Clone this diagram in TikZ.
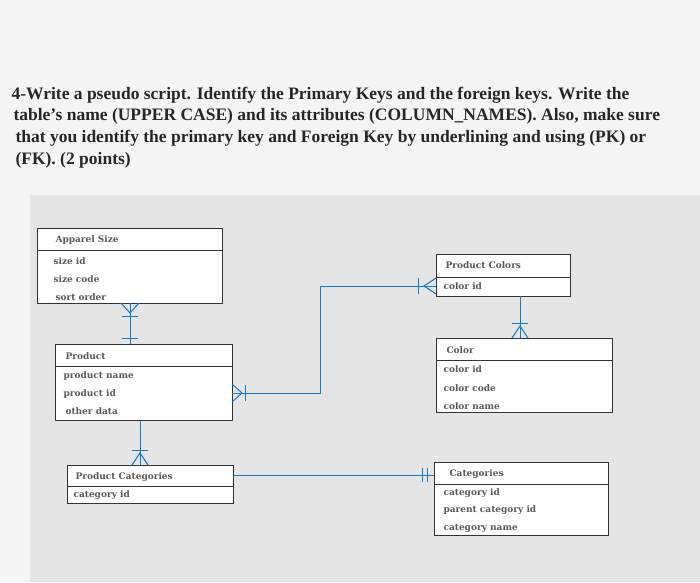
\documentclass[tikz,border=0pt]{standalone}
\usepackage{fontspec}
\setmainfont{Liberation Serif}
\newfontfamily\boxfont{DejaVu Serif}
\begin{document}
\begin{tikzpicture}[x=1pt,y=-1pt,
  lbl/.style={anchor=west,font=\boxfont\bfseries\fontsize{9}{10}\selectfont,text=black!65},
  q/.style={anchor=west,font=\bfseries\fontsize{17.5}{20}\selectfont,text=black!85},
  con/.style={draw=cyan!60!blue,line width=1pt}]
\useasboundingbox (0,0) rectangle (700,582);
\fill[black!4] (0,0) rectangle (700,582);
\fill[black!10] (30,195) rectangle (700,582);
\node[q] (q1) at (8,95) {4-Write a pseudo script. Identify the Primary Keys and the foreign keys. Write the};
\node[q] (q2) at (10,116) {table's name (UPPER CASE) and its attributes (COLUMN\_NAMES). Also, make sure};
\node[q] (q3) at (12,138) {that you identify the primary key and Foreign Key by underlining and using (PK) or};
\node[q] (q4) at (12,160) {(FK). (2 points)};
\newcommand{\erbox}[6]{%
  \draw[fill=white,draw=black!80,line width=0.9pt] (#2,#3) rectangle (#4,#6);
  \draw[black!80,line width=0.9pt] (#2,#5) -- (#4,#5);
  \coordinate (#1nw) at (#2,#3);}
\erbox{as}{37}{228}{222}{250}{303}
\node[lbl] (ash) at (52,240) {Apparel Size};
\node[lbl] (as1) at (50,261) {size id};
\node[lbl] (as2) at (50,279) {size code};
\node[lbl] (as3) at (52,297) {sort order};
\erbox{pc}{436}{254}{570}{277}{296}
\node[lbl] (pch) at (442,265) {Product Colors};
\node[lbl] (pc1) at (440,286) {color id};
\erbox{co}{436}{338}{612}{360}{412}
\node[lbl] (coh) at (443,350) {Color};
\node[lbl] (co1) at (440,369) {color id};
\node[lbl] (co2) at (440,388) {color code};
\node[lbl] (co3) at (440,406) {color name};
\erbox{pr}{55}{344}{232}{366}{420}
\node[lbl] (prh) at (62,356) {Product};
\node[lbl] (pr1) at (60,376) {product name};
\node[lbl] (pr2) at (60,394) {product id};
\node[lbl] (pr3) at (62,411) {other data};
\erbox{pg}{67}{465}{233}{486}{503}
\node[lbl] (pgh) at (72,477) {Product Categories};
\node[lbl] (pg1) at (70,495) {category id};
\erbox{ca}{434}{462}{608}{484}{535}
\node[lbl] (cah) at (446,474) {Categories};
\node[lbl] (ca1) at (440,493) {category id};
\node[lbl] (ca2) at (440,510) {parent category id};
\node[lbl] (ca3) at (440,528) {category name};
\coordinate (a1) at (130,303); \coordinate (a2) at (130,344);
\draw[con] (a1) -- (a2);
\draw[con] (121,303) -- (130,313) -- (139,303); \draw[con] (122,316)--(138,316);
\draw[con] (122,338)--(138,338);
\coordinate (b1) at (232,393); \coordinate (b2) at (436,286);
\draw[con] (b1) -- (320,393) -- (320,286) -- (b2);
\draw[con] (232,384) -- (242,393) -- (232,402); \draw[con] (245,385)--(245,401);
\draw[con] (436,278) -- (424,286) -- (436,294); \draw[con] (418,278)--(418,294);
\coordinate (c1) at (520,296); \coordinate (c2) at (520,338);
\draw[con] (c1) -- (c2);
\draw[con] (512,338) -- (520,326) -- (528,338); \draw[con] (512,323)--(528,323);
\coordinate (d1) at (140,420); \coordinate (d2) at (140,465);
\draw[con] (d1) -- (d2);
\draw[con] (132,465) -- (140,453) -- (148,465); \draw[con] (132,450)--(148,450);
\coordinate (e1) at (233,475); \coordinate (e2) at (434,475);
\draw[con] (e1) -- (e2);
\draw[con] (422,468)--(422,482); \draw[con] (427,468)--(427,482);
\end{tikzpicture}
\end{document}
